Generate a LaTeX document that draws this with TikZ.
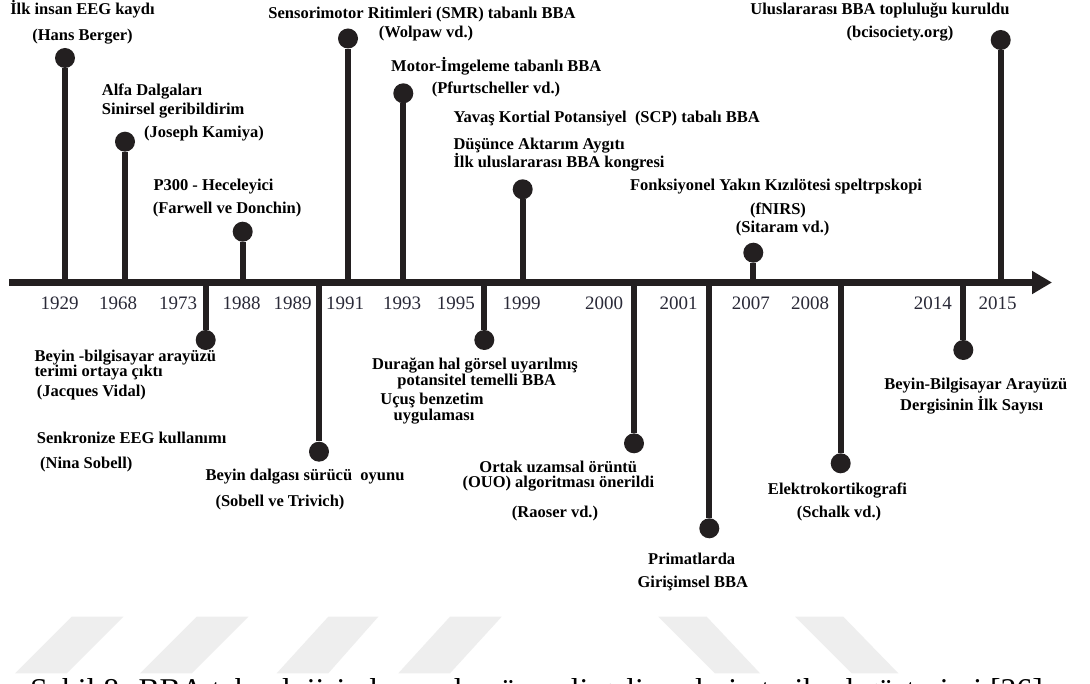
\documentclass[tikz,border=0pt]{standalone}
\usepackage{fontspec}
\setmainfont{Liberation Serif}
\usetikzlibrary{arrows.meta}
\definecolor{inkc}{HTML}{231F20}
\definecolor{yearc}{HTML}{2A2A38}
\definecolor{bandc}{HTML}{EEEEEE}

\begin{document}
\begin{tikzpicture}[x=1pt,y=-1pt,
  lbl/.style={font=\fontsize{16.5}{18}\selectfont\bfseries, inner sep=0pt, text=black},
  yr/.style={font=\fontsize{19}{21}\selectfont, inner sep=0pt, text=yearc, anchor=base},
  dot/.style={circle, fill=inkc, minimum size=20pt, inner sep=0pt},
  stem/.style={draw=inkc, line width=6pt},
  axisline/.style={draw=inkc, line width=7pt, -{Triangle[length=20pt,width=22pt]}},
  band/.style={fill=bandc, draw=none},
  captext/.style={font=\fontsize{31.7}{34}\selectfont, inner sep=0pt, anchor=base west}
]
\fill[white] (0,0) rectangle (1090,684);
\clip (0,0) rectangle (1090,684);
\useasboundingbox (0,0) rectangle (1090,684);

% light slanted bands behind the caption
\fill[band] (71.7,616.7) -- (123.3,616.7) -- (66.7,673.3) -- (15,673.3) -- cycle;
\fill[band] (196.7,616.7) -- (248.3,616.7) -- (191.7,673.3) -- (140,673.3) -- cycle;
\fill[band] (328.3,616.7) -- (378.3,616.7) -- (328.3,673.3) -- (276.7,673.3) -- cycle;
\fill[band] (450,616.7) -- (501.7,616.7) -- (450,673.3) -- (398.3,673.3) -- cycle;
\fill[band] (658.3,616.7) -- (706.7,616.7) -- (760,673.3) -- (715,673.3) -- cycle;
\fill[band] (795,616.7) -- (843.3,616.7) -- (898.3,673.3) -- (851.7,673.3) -- cycle;

% time axis
\coordinate (axL) at (9,282.5);
\coordinate (axR) at (1052,282.5);
\draw[axisline] (axL) -- (axR);

% events: dot on a stem joined to the axis
\foreach \n/\x/\y in {e1929/65/58, e1968/125/141.7, e1988/242.7/231.7, e1991/348/38.5,
                      e1993/403.3/93.3, e1999/522.7/189.3, e2007/753.3/252.7, e2015/1000.7/40,
                      e1973/205.7/340, e1989/319/451.7, e1995/484.3/340, e2000/634/443.3,
                      e2001/709.3/528.3, e2008/840.7/463.3, e2014/963.3/350}{
  \node[dot] (\n) at (\x,\y) {};
  \coordinate (\n a) at (\x,282.5);
  \draw[stem] (\n) -- (\n a);
}

% years
\foreach \yy/\x in {1929/59.7, 1968/118, 1973/178, 1988/241.7, 1989/292.5, 1991/345,
                    1993/402, 1995/455.8, 1999/521.7, 2000/604, 2001/678.7,
                    2007/750.8, 2008/810, 2014/932.8, 2015/997.5}{
  \node[yr] (y\yy) at (\x,309.5) {\yy};
}

% labels above the axis
\node[lbl, anchor=base] (t1a) at (82.5,14.5) {İlk insan EEG kaydı};
\node[lbl, anchor=base] (t1b) at (82.5,40.5) {(Hans Berger)};

\node[lbl, anchor=base west] (t2a) at (101.7,96) {Alfa Dalgaları};
\node[lbl, anchor=base west] (t2b) at (101.7,115) {Sinirsel geribildirim};
\node[lbl, anchor=base] (t2c) at (204,138) {(Joseph Kamiya)};

\node[lbl, anchor=base west] (t3a) at (153.3,190.5) {P300 - Heceleyici};
\node[lbl, anchor=base west] (t3b) at (152.7,214) {(Farwell ve Donchin)};

\node[lbl, anchor=base] (t4a) at (422,18.5) {Sensorimotor Ritimleri (SMR) tabanlı BBA};
\node[lbl, anchor=base] (t4b) at (426,38) {(Wolpaw vd.)};

\node[lbl, anchor=base] (t5a) at (496.3,72) {Motor-İmgeleme tabanlı BBA};
\node[lbl, anchor=base] (t5b) at (496,94) {(Pfurtscheller vd.)};

\node[lbl, anchor=base west] (t6a) at (453.3,123) {Yavaş Kortial Potansiyel\ \ (SCP) tabalı BBA};
\node[lbl, anchor=base west] (t6b) at (453.3,150) {Düşünce Aktarım Aygıtı};
\node[lbl, anchor=base west] (t6c) at (453.3,168) {İlk uluslararası BBA kongresi};

\node[lbl, anchor=base] (t7a) at (776,190.5) {Fonksiyonel Yakın Kızılötesi speltrpskopi};
\node[lbl, anchor=base] (t7b) at (778,215) {(fNIRS)};
\node[lbl, anchor=base] (t7c) at (782.7,233) {(Sitaram vd.)};

\node[lbl, anchor=base] (t8a) at (880,14.5) {Uluslararası BBA topluluğu kuruldu};
\node[lbl, anchor=base] (t8b) at (900,38) {(bcisociety.org)};

% labels below the axis
\node[lbl, anchor=base west] (b1a) at (34.3,361.5) {Beyin -bilgisayar arayüzü};
\node[lbl, anchor=base west] (b1b) at (34.3,377) {terimi ortaya çıktı};
\node[lbl, anchor=base west] (b1c) at (36.7,397) {(Jacques Vidal)};

\node[lbl, anchor=base west] (b2a) at (36.7,443) {Senkronize EEG kullanımı};
\node[lbl, anchor=base west] (b2b) at (40,468) {(Nina Sobell)};

\node[lbl, anchor=base] (b3a) at (305,480.5) {Beyin dalgası sürücü\ \ oyunu};
\node[lbl, anchor=base] (b3b) at (280,506) {(Sobell ve Trivich)};

\node[lbl, anchor=base] (b4a) at (475,370) {Durağan hal görsel uyarılmış};
\node[lbl, anchor=base] (b4b) at (476.7,385.5) {potansitel temelli BBA};
\node[lbl, anchor=base] (b4c) at (432,405) {Uçuş benzetim};
\node[lbl, anchor=base] (b4d) at (434,420.5) {uygulaması};

\node[lbl, anchor=base] (b5a) at (558.3,472) {Ortak uzamsal örüntü};
\node[lbl, anchor=base] (b5b) at (558.3,487.5) {(OUO) algoritması önerildi};
\node[lbl, anchor=base] (b5c) at (555,517) {(Raoser vd.)};

\node[lbl, anchor=base] (b6a) at (691.7,564) {Primatlarda};
\node[lbl, anchor=base] (b6b) at (692.8,587) {Girişimsel BBA};

\node[lbl, anchor=base] (b7a) at (837.5,494) {Elektrokortikografi};
\node[lbl, anchor=base] (b7b) at (839,517) {(Schalk vd.)};

\node[lbl, anchor=base] (b8a) at (975.8,389.5) {Beyin-Bilgisayar Arayüzü};
\node[lbl, anchor=base] (b8b) at (971.7,411) {Dergisinin İlk Sayısı};

% caption
\node[captext] (caption) at (30,700) {Şekil 8: BBA teknolojisinde yapılan önemli gelişmelerin tarihsel gösterimi [26]};
\end{tikzpicture}
\end{document}
